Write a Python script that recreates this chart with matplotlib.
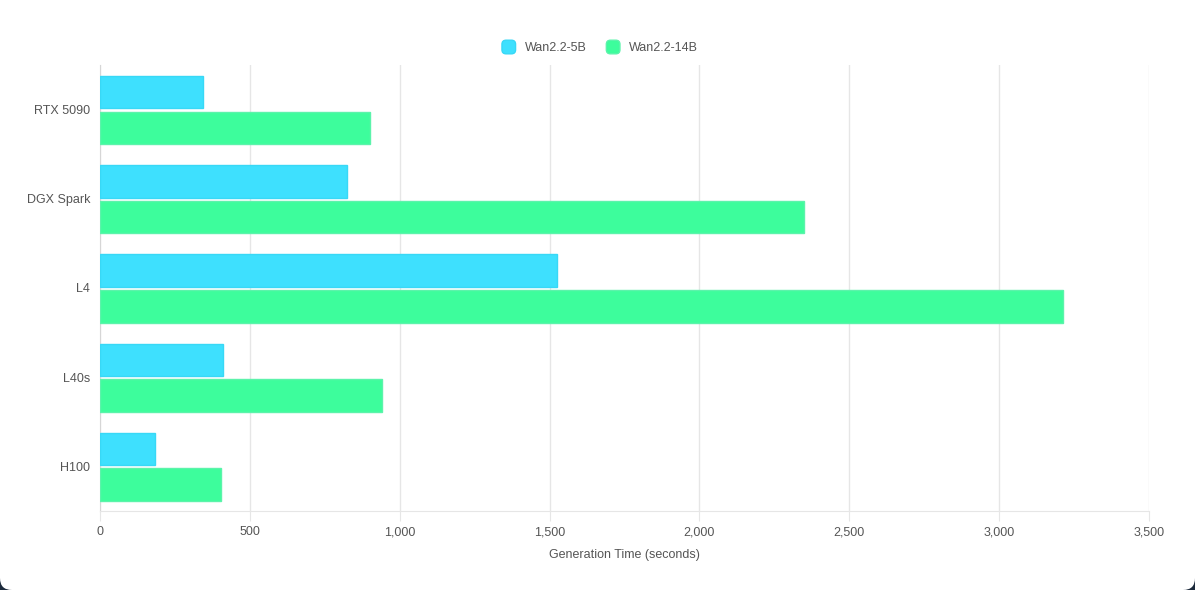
import matplotlib
matplotlib.use("Agg")
import matplotlib.pyplot as plt
import matplotlib.patches as patches
from matplotlib.legend_handler import HandlerPatch
from matplotlib.transforms import IdentityTransform
from matplotlib.ticker import FuncFormatter
import numpy as np

# Datos del gráfico
gpus = ["RTX 5090", "DGX Spark", "L4", "L40s", "H100"]
wan_5b = [345, 825, 1525, 412, 182]
wan_14b = [902, 2350, 3212, 940, 405]
series_names = ["Wan2.2-5B", "Wan2.2-14B"]

CIAN = "#3ee0fe"
CIAN_BORDE = "#38d8f6"
VERDE = "#3dfd9c"
VERDE_BORDE = "#5cf3ab"
TEXTO = "#555555"
REJILLA = "#e6e6e6"

plt.rcParams['font.family'] = ['Liberation Sans', 'DejaVu Sans']


# Cuadritos redondeados para la leyenda
class HandlerRedondo(HandlerPatch):
    def create_artists(self, legend, orig_handle, xdescent, ydescent, width, height, fontsize, trans):
        lado = min(width, height)
        p = patches.FancyBboxPatch((-xdescent, -ydescent), lado, lado,
                                   boxstyle="round,pad=0,rounding_size=%f" % (lado * 0.3),
                                   facecolor=orig_handle.get_facecolor(), edgecolor=orig_handle.get_edgecolor(),
                                   linewidth=1, transform=trans)
        return [p]


fig = plt.figure(figsize=(11.95, 5.9), dpi=100)
fig.patch.set_facecolor("#1c2a3c")
# fondo blanco con esquinas redondeadas abajo
fondo = patches.FancyBboxPatch((0, 0), 1195, 640, boxstyle="round,pad=0,rounding_size=12",
                               transform=IdentityTransform(), facecolor="white", edgecolor="none", zorder=-10)
fig.patches.append(fondo)

ax = fig.add_axes([100 / 1195, 79 / 590, 1049 / 1195, 446 / 590])
ax.set_facecolor("white")

y = np.arange(len(gpus))
alto = 0.365
ax.barh(y - 0.195, wan_5b, height=alto, color=CIAN, edgecolor=CIAN_BORDE, linewidth=1, label=series_names[0], zorder=3)
ax.barh(y + 0.205, wan_14b, height=alto, color=VERDE, edgecolor=VERDE_BORDE, linewidth=1, label=series_names[1], zorder=3)

ax.set_ylim(len(gpus) - 0.5, -0.5)
ax.set_xlim(0, 3500)
ax.set_yticks(y)
ax.set_yticklabels(gpus)
ax.set_xticks(np.arange(0, 3501, 500))
ax.xaxis.set_major_formatter(FuncFormatter(lambda v, p: f"{int(v):,}"))

ax.grid(True, axis='x', color=REJILLA, linewidth=1, zorder=0)
for s in ["top", "right"]:
    ax.spines[s].set_visible(False)
ax.spines["left"].set_color("#d6d6d6")
ax.spines["bottom"].set_color(REJILLA)
ax.tick_params(axis='x', length=7, color=REJILLA, labelcolor=TEXTO, labelsize=9, pad=4)
ax.tick_params(axis='y', length=0, labelcolor=TEXTO, labelsize=9, pad=7)

ax.set_xlabel("Generation Time (seconds)", fontsize=9, color=TEXTO, labelpad=8)

# Leyenda superior centrada
handles = [patches.Patch(facecolor=CIAN, edgecolor=CIAN_BORDE), patches.Patch(facecolor=VERDE, edgecolor=VERDE_BORDE)]
fig.legend(handles, series_names, loc="center", bbox_to_anchor=(0.502, 0.920), ncol=2, frameon=False,
           fontsize=9, handlelength=1.3, handleheight=1.3, handletextpad=0.5, columnspacing=1.6,
           labelcolor=TEXTO, handler_map={patches.Patch: HandlerRedondo()})

plt.savefig("out.png", dpi=100, facecolor=fig.get_facecolor())
